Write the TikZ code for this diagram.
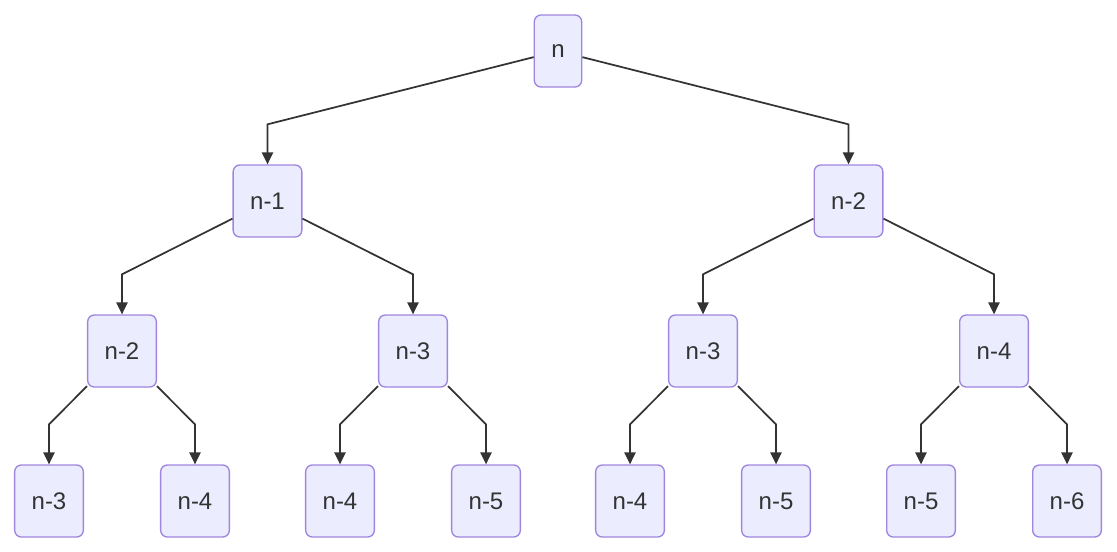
\documentclass[tikz,border=0pt]{standalone}
\usepackage{xcolor}
\usepackage{fontspec}
\setmainfont{Liberation Sans}
\usepackage{tikz}
\usetikzlibrary{positioning, arrows.meta}

\definecolor{boxfill}{HTML}{ECECFF}
\definecolor{boxline}{HTML}{9F85DF}
\definecolor{edgeline}{HTML}{333333}

\begin{document}
\begin{tikzpicture}[
    every node/.style={draw=boxline, line width=1pt, fill=boxfill, rounded corners=5pt, minimum height=54pt, inner xsep=12.75pt, align=center, text=edgeline, font=\fontsize{18}{20}\selectfont},
    level 1/.style={sibling distance=435.75pt},
    level 2/.style={sibling distance=218.25pt},
    level 3/.style={sibling distance=109.5pt},
    edge from parent/.style={draw=edgeline, line width=1.3pt, -{Triangle[length=9pt, width=8.5pt]}},
    edge from parent path={(\tikzparentnode) -- ([yshift=30pt]\tikzchildnode.north) -- (\tikzchildnode.north)},
    grow=down, level distance=112.5pt
]
\useasboundingbox (0,0) rectangle (837.75pt,-413.25pt);
% fibonacci call tree
\node (root) at (418.5pt,-38.25pt) {n}
    child { node (L) {n-1}
        child { node (LL) {n-2}
            child { node (LLL) {n-3} }
            child { node (LLR) {n-4} } }
        child { node (LR) {n-3}
            child { node (LRL) {n-4} }
            child { node (LRR) {n-5} } } }
    child { node (R) {n-2}
        child { node (RL) {n-3}
            child { node (RLL) {n-4} }
            child { node (RLR) {n-5} } }
        child { node (RR) {n-4}
            child { node (RRL) {n-5} }
            child { node (RRR) {n-6} } } };
\end{tikzpicture}
\end{document}
